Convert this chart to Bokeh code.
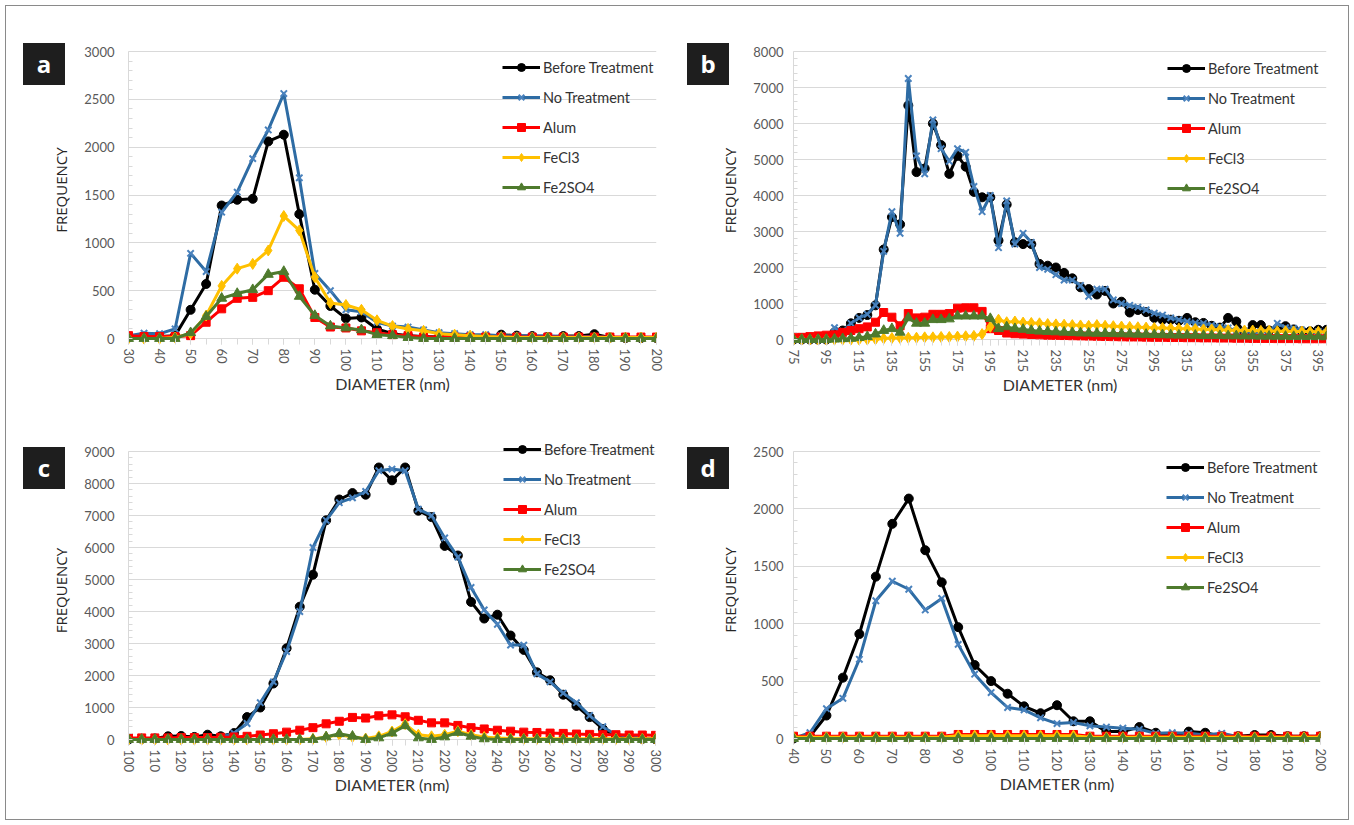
import math
from bokeh.plotting import figure
from bokeh.models import Range1d, FixedTicker, Legend, LegendItem, GridBox, Div
from bokeh.embed import file_html
from bokeh.resources import INLINE

SERIES = ["Before Treatment", "No Treatment", "Alum", "FeCl3", "Fe2SO4"]
COLORS = ["#000000", "#2e6ca4", "#ff0000", "#ffc000", "#4e7a2d"]
MARKER_LINE = ["#000000", "#4a82bd", "#ff0000", "#ffc000", "#4e7a2d"]
MARKERS = ["circle", "x", "square", "diamond", "triangle"]
MSIZE = [9, 9, 8, 11, 10]

# ---------------- panel a ----------------
A_X = list(range(30, 201, 5))
A_BEFORE = [10, 20, 20, 30, 300, 570, 1390, 1450, 1460, 2060, 2130, 1300, 510, 340, 210, 220, 100, 50,
            30, 20, 15, 15, 15, 15, 40, 30, 25, 15, 25, 25, 45, 10, 5, 5, 5]
A_NONE = [30, 55, 50, 100, 890, 700, 1320, 1530, 1880, 2180, 2560, 1680, 680, 500, 300, 280, 170, 130,
          120, 90, 60, 50, 40, 40, 30, 30, 30, 30, 20, 20, 20, 10, 10, 5, 5]
A_ALUM = [30, 20, 20, 20, 30, 170, 310, 420, 430, 500, 640, 520, 220, 120, 110, 80, 60, 40,
          30, 15, 15, 15, 15, 15, 15, 15, 15, 15, 15, 15, 15, 15, 15, 15, 15]
A_FECL3 = [0, 0, 0, 10, 50, 240, 550, 730, 780, 920, 1280, 1130, 640, 370, 350, 300, 190, 130,
           100, 80, 50, 40, 30, 20, 15, 10, 10, 10, 10, 10, 10, 10, 10, 10, 10]
A_FE2SO4 = [0, 0, 0, 0, 60, 230, 420, 470, 510, 670, 700, 440, 240, 130, 110, 90, 40, 30,
            10, 0, 0, 0, 0, 0, 0, 0, 0, 0, 0, 0, 0, 0, 0, 0, 0]

# ---------------- panel b ----------------
B_X = list(range(75, 401, 5))
B_BEFORE = [0, 0, 0, 0, 0, 200, 250, 450, 600, 680,
            950, 2500, 3400, 3200, 6500, 4650, 4750, 6000, 5400, 4600,
            5100, 4800, 4100, 3950, 3950, 2750, 3750, 2700, 2650, 2650,
            2100, 2050, 2000, 1850, 1700, 1450, 1400, 1250, 1350, 1000,
            1050, 750, 820, 760, 600, 550, 550, 520, 600, 480,
            460, 380, 330, 600, 500, 200, 400, 400, 250, 280,
            370, 280, 230, 230, 270, 270]
B_NONE = [0, 0, 0, 0, 0, 330, 230, 450, 600, 700,
          950, 2450, 3550, 2950, 7250, 5100, 4600, 6100, 5300, 4950,
          5300, 5200, 4250, 3550, 4000, 2550, 3850, 2650, 2950, 2700,
          2000, 1950, 1800, 1650, 1650, 1500, 1200, 1400, 1400, 1100,
          1000, 950, 900, 820, 730, 680, 600, 550, 500, 460,
          450, 400, 360, 320, 240, 230, 180, 220, 200, 450,
          330, 310, 260, 180, 220, 200]
B_ALUM = [50, 60, 80, 100, 120, 130, 200, 250, 300, 350,
          480, 750, 620, 380, 720, 600, 620, 700, 700, 720,
          870, 880, 880, 780, 300, 250, 180, 160, 150, 140,
          130, 120, 115, 110, 105, 100, 95, 90, 85, 80,
          75, 70, 70, 65, 60, 60, 55, 55, 50, 50,
          45, 45, 40, 40, 35, 35, 30, 30, 30, 25,
          25, 25, 20, 20, 20, 20]
B_FECL3 = [0, 0, 0, 0, 0, 0, 0, 0, 0, 0,
           10, 30, 40, 40, 50, 50, 60, 60, 70, 70,
           80, 90, 100, 150, 350, 550, 480, 500, 470, 460,
           450, 430, 420, 410, 400, 390, 380, 400, 380, 370,
           360, 350, 340, 330, 320, 320, 310, 300, 300, 290,
           280, 280, 270, 260, 260, 250, 250, 240, 240, 230,
           230, 225, 220, 220, 215, 210]
B_FE2SO4 = [0, 0, 0, 0, 0, 10, 20, 30, 50, 80,
            150, 250, 300, 200, 600, 450, 450, 550, 550, 570,
            650, 650, 650, 650, 580, 300, 350, 300, 280, 250,
            230, 220, 210, 200, 190, 180, 175, 170, 165, 160,
            155, 150, 145, 140, 135, 130, 125, 120, 120, 115,
            110, 110, 105, 100, 100, 95, 95, 90, 90, 85,
            85, 80, 80, 80, 75, 75]

# ---------------- panel c ----------------
C_X = list(range(100, 301, 5))
C_BEFORE = [0, 20, 30, 100, 110, 80, 150, 100, 200, 700,
            1000, 1750, 2850, 4150, 5150, 6850, 7500, 7700, 7650, 8500,
            8100, 8500, 7150, 6950, 6050, 5750, 4300, 3780, 3900, 3250,
            2800, 2100, 1850, 1400, 1050, 700, 330, 100, 50, 20, 10]
C_NONE = [0, 10, 20, 30, 30, 30, 40, 80, 200, 500,
          1150, 1800, 2750, 4000, 6000, 6850, 7400, 7550, 7750, 8400,
          8450, 8400, 7200, 7000, 6300, 5700, 4750, 4050, 3600, 2950,
          2950, 2050, 1800, 1450, 1150, 750, 400, 150, 100, 30, 10]
C_ALUM = [50, 50, 50, 50, 60, 60, 60, 70, 80, 100,
          140, 180, 230, 290, 370, 490, 570, 690, 670, 740,
          770, 710, 600, 520, 520, 440, 370, 330, 290, 260,
          230, 220, 200, 190, 170, 160, 150, 150, 140, 140, 130]
C_FECL3 = [0, 0, 0, 0, 0, 0, 0, 0, 0, 0,
           0, 0, 0, 0, 20, 80, 150, 80, 30, 100,
           250, 480, 150, 100, 150, 260, 150, 80, 50, 30,
           20, 20, 20, 20, 20, 20, 20, 20, 20, 20, 20]
C_FE2SO4 = [0, 0, 0, 0, 0, 0, 0, 0, 0, 0,
            0, 0, 0, 0, 0, 80, 180, 100, 0, 50,
            200, 430, 50, 0, 80, 220, 100, 20, 0, 0,
            0, 0, 0, 0, 0, 0, 0, 0, 0, 0, 0]

# ---------------- panel d ----------------
D_X = list(range(40, 201, 5))
D_BEFORE = [0, 20, 200, 530, 910, 1410, 1870, 2090, 1640, 1360,
            970, 640, 500, 390, 280, 220, 290, 150, 150, 60,
            60, 100, 50, 20, 60, 50, 20, 20, 30, 30, 20, 20, 20]
D_NONE = [0, 50, 260, 350, 690, 1200, 1370, 1300, 1120, 1220,
          820, 560, 400, 270, 250, 180, 130, 140, 110, 100,
          90, 80, 45, 50, 45, 30, 45, 15, 10, 10, 10, 10, 10]
D_ALUM = [20, 20, 20, 20, 20, 20, 20, 20, 20, 20,
          35, 35, 35, 35, 35, 35, 35, 35, 20, 20,
          20, 20, 20, 20, 20, 20, 20, 20, 20, 20, 20, 20, 20]
D_FECL3 = [10, 10, 10, 10, 10, 10, 10, 10, 10, 10,
           25, 25, 25, 25, 25, 25, 25, 25, 10, 10,
           10, 10, 10, 10, 10, 10, 10, 10, 10, 10, 10, 10, 10]
D_FE2SO4 = [0] * 33

GRID = "#d9d9d9"
TICK_FONT = "Lato"
PAD = 6       # px between baseline and frame bottom, so baseline markers are not cut
TOPPAD = 16   # px of frame above the top gridline, room for the legend


def panel(xs, series, ymax, ystep, yminor, xmajor, geom):
    left, fw, right, top, fh, bottom, legend_loc, ystand = geom
    y0 = -ymax * PAD / fh
    y1 = ymax + ymax * TOPPAD / fh
    p = figure(frame_width=fw, frame_height=fh + PAD + TOPPAD,
               x_range=Range1d(xs[0], xs[-1]), y_range=Range1d(y0, y1),
               min_border_left=left, min_border_right=right,
               min_border_top=top - TOPPAD, min_border_bottom=bottom,
               output_backend="svg", toolbar_location=None)
    p.outline_line_color = None
    p.background_fill_color = "white"
    p.border_fill_color = "white"
    p.xgrid.visible = False
    p.ygrid.grid_line_color = GRID
    p.ygrid.grid_line_width = 1

    xa = p.xaxis[0]
    xa.ticker = FixedTicker(ticks=xmajor, minor_ticks=xs)
    xa.axis_line_color = None
    xa.major_tick_in = PAD
    xa.major_tick_out = 0
    xa.minor_tick_in = PAD
    xa.minor_tick_out = 0
    xa.major_tick_line_color = GRID
    xa.minor_tick_line_color = GRID
    xa.major_label_orientation = -math.pi / 2
    xa.major_label_standoff = 4
    xa.major_label_text_font = TICK_FONT
    xa.major_label_text_font_size = "13px"
    xa.major_label_text_color = "#595959"
    xa.axis_label = "DIAMETER (nm)"
    xa.axis_label_standoff = 0
    xa.axis_label_text_font = "Lato"
    xa.axis_label_text_font_size = "16px"
    xa.axis_label_text_font_style = "normal"
    xa.axis_label_text_color = "#333333"

    ya = p.yaxis[0]
    ya.ticker = FixedTicker(ticks=list(range(0, ymax + 1, ystep)),
                            minor_ticks=list(range(0, ymax + 1, yminor)))
    ya.bounds = (0, ymax)
    ya.axis_line_color = GRID
    ya.major_tick_in = 0
    ya.major_tick_out = 0
    ya.minor_tick_in = 4
    ya.minor_tick_out = 0
    ya.minor_tick_line_color = GRID
    ya.major_label_standoff = ystand
    ya.major_label_text_font = TICK_FONT
    ya.major_label_text_font_size = "13px"
    ya.major_label_text_color = "#595959"
    ya.axis_label = "FREQUENCY"
    ya.axis_label_standoff = 10
    ya.axis_label_text_font = "Open Sans"
    ya.axis_label_text_font_size = "15px"
    ya.axis_label_text_font_style = "normal"
    ya.axis_label_text_color = "#262626"

    items = []
    for name, ys, c, mc, m, s in zip(SERIES, series, COLORS, MARKER_LINE, MARKERS, MSIZE):
        lr = p.line(xs, ys, line_color=c, line_width=3)
        if m == "x":
            sr = p.scatter(xs, ys, marker=m, size=s, line_color=mc, line_width=2)
        else:
            sr = p.scatter(xs, ys, marker=m, size=s, fill_color=c, line_color=c)
        items.append(LegendItem(label=name, renderers=[lr, sr]))

    leg = Legend(items=items, location=legend_loc, orientation="vertical",
                 glyph_width=38, glyph_height=20, label_height=20, spacing=10,
                 padding=0, margin=0, label_standoff=3,
                 border_line_color=None, background_fill_alpha=0,
                 label_text_font="Lato", label_text_font_size="14.5px",
                 label_text_color="#333333", label_text_baseline="middle")
    p.add_layout(leg)
    return p


def tag(letter, margin):
    html = ('<div style="width:42px;height:42px;line-height:42px;text-align:center;'
            'color:#ffffff;background:#1e1e1e;font-family:\'Open Sans\';font-weight:bold;'
            'font-size:24px;margin:0;padding:0;">%s</div>' % letter)
    return Div(text=html, width=42, height=42, margin=margin, align="start",
               styles={"background-color": "#1e1e1e", "color": "#ffffff",
                       "overflow": "hidden"})


pa = panel(A_X, [A_BEFORE, A_NONE, A_ALUM, A_FECL3, A_FE2SO4], 3000, 500, 100,
           list(range(30, 201, 10)),
           (122, 528, 16, 45, 287, 66, (374, 147), 14))
pb = panel(B_X, [B_BEFORE, B_NONE, B_ALUM, B_FECL3, B_FE2SO4], 8000, 1000, 200,
           list(range(75, 396, 20)),
           (121, 533, 22, 44, 288, 66, (374, 147), 10))
pc = panel(C_X, [C_BEFORE, C_NONE, C_ALUM, C_FECL3, C_FE2SO4], 9000, 1000, 200,
           list(range(100, 301, 10)),
           (122, 527, 17, 40, 288, 75, (375, 166), 14))
pd = panel(D_X, [D_BEFORE, D_NONE, D_ALUM, D_FECL3, D_FE2SO4], 2500, 500, 100,
           list(range(40, 201, 10)),
           (121, 527, 28, 41, 287, 75, (373, 147), 10))

ta = tag("a", (37, 0, 0, 17))
tb = tag("b", (37, 0, 0, 15))
tc = tag("c", (37, 0, 0, 17))
td = tag("d", (37, 0, 0, 15))

layout = GridBox(children=[(pa, 0, 0), (pb, 0, 1), (pc, 1, 0), (pd, 1, 1),
                           (ta, 0, 0), (tb, 0, 1), (tc, 1, 0), (td, 1, 1)],
                 styles={"border": "1px solid #8a8a8a", "margin-left": "5px",
                         "margin-top": "5px", "background-color": "white"})

open("out.html", "w").write(file_html(layout, INLINE))
